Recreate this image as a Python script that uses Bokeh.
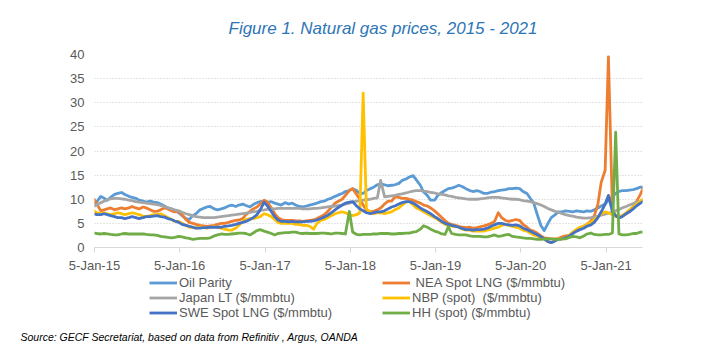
import pandas as pd
from bokeh.plotting import figure
from bokeh.layouts import column
from bokeh.models import Range1d, FixedTicker, Legend, LegendItem, Title, Label
from bokeh.embed import file_html
from bokeh.resources import INLINE

# semi-monthly observation dates (1st and 15th of each month)
dates = pd.date_range("2015-01-01", "2021-06-15", freq="SMS")

oil_parity = [
    8.8, 9.5, 10.6, 10.2, 9.8, 10.4, 11.0, 11.2, 11.4, 11.0, 10.6, 10.4, 10.2, 9.8, 9.6, 9.4, 9.6, 9.4, 9.3, 9.0, 8.6, 8.2, 8.0, 7.6,
    7.2, 6.6, 6.0, 5.8, 6.6, 7.0, 7.8, 8.1, 8.4, 8.5, 8.0, 7.8, 8.0, 8.2, 8.6, 8.8, 8.5, 8.8, 9.0, 8.7, 8.4, 8.9, 9.3, 9.5,
    9.6, 9.4, 9.5, 9.2, 9.0, 8.8, 9.3, 9.0, 9.2, 8.8, 8.5, 8.4, 8.6, 8.8, 9.0, 9.2, 9.5, 9.6, 10.0, 10.2, 10.6, 10.9, 11.2, 11.6,
    11.8, 12.2, 11.8, 11.2, 11.2, 11.8, 12.2, 12.5, 13.0, 13.2, 13.0, 12.8, 12.9, 13.0, 13.3, 13.9, 14.2, 14.6, 14.9, 14.0, 12.9, 11.5, 10.8, 9.8,
    9.8, 10.8, 11.4, 11.8, 12.2, 12.3, 12.6, 12.9, 12.6, 12.2, 11.8, 11.6, 11.8, 11.6, 11.2, 11.2, 11.5, 11.6, 11.8, 11.9, 12.0, 12.2, 12.2, 12.3,
    12.2, 11.6, 11.2, 10.2, 9.2, 7.0, 4.5, 3.5, 5.0, 6.2, 6.8, 7.4, 7.4, 7.6, 7.5, 7.4, 7.6, 7.5, 7.4, 7.6, 7.5, 7.8, 8.2, 8.6,
    9.0, 9.8, 10.5, 11.2, 11.6, 11.8, 11.8, 11.9, 12.0, 12.2, 12.5, 12.5,
]

nea_spot_lng = [
    10.2, 9.0, 7.6, 7.8, 8.0, 8.2, 7.8, 8.0, 8.2, 8.0, 8.2, 8.5, 8.2, 8.0, 8.4, 8.2, 7.8, 7.5, 7.5, 7.8, 8.2, 8.0, 7.6, 7.4,
    7.5, 6.8, 5.8, 5.2, 5.0, 4.8, 4.6, 4.5, 4.4, 4.5, 4.6, 4.8, 5.0, 5.0, 5.2, 5.4, 5.6, 5.7, 6.0, 6.8, 7.5, 8.0, 8.4, 9.0,
    9.8, 9.4, 8.2, 7.0, 6.2, 5.8, 5.6, 5.6, 5.6, 5.5, 5.5, 5.4, 5.5, 5.6, 5.7, 6.0, 6.4, 6.8, 7.5, 8.3, 9.2, 9.6, 10.0, 10.8,
    11.8, 12.2, 11.0, 10.0, 8.8, 7.8, 7.4, 7.5, 7.8, 8.2, 9.0, 9.6, 9.6, 10.5, 10.4, 10.2, 10.2, 10.0, 9.8, 9.5, 9.2, 8.8, 8.6, 8.2,
    7.6, 7.0, 6.2, 5.6, 5.0, 4.8, 4.6, 4.4, 4.2, 4.1, 4.2, 4.0, 4.1, 4.3, 4.5, 4.7, 5.0, 5.4, 7.2, 6.2, 5.6, 5.4, 5.6, 5.8,
    5.6, 4.8, 4.2, 3.6, 3.4, 3.0, 2.4, 2.0, 1.9, 1.8, 1.8, 1.9, 2.2, 2.4, 2.5, 3.0, 3.5, 4.0, 4.4, 4.8, 5.5, 6.5, 9.0, 13.5,
    16.0, 39.5, 8.0, 6.5, 6.2, 6.5, 7.0, 7.5, 8.5, 9.5, 11.0, 12.5,
]

japan_lt = [
    8.5, 8.8, 9.3, 9.6, 9.9, 10.1, 10.2, 10.2, 10.1, 10.0, 9.8, 9.7, 9.5, 9.4, 9.3, 9.2, 9.1, 9.0, 8.9, 8.7, 8.5, 8.2, 8.0, 7.8,
    7.6, 7.3, 7.0, 6.8, 6.6, 6.4, 6.3, 6.2, 6.2, 6.2, 6.2, 6.3, 6.4, 6.5, 6.6, 6.7, 6.8, 6.9, 7.0, 7.1, 7.3, 7.4, 7.5, 7.7,
    7.8, 7.9, 8.0, 8.0, 8.1, 8.1, 8.1, 8.1, 8.1, 8.1, 8.1, 8.0, 8.0, 8.0, 8.1, 8.1, 8.2, 8.3, 8.4, 8.5, 8.6, 8.7, 8.8, 9.0,
    9.2, 9.4, 9.6, 9.7, 9.8, 9.9, 10.0, 10.2, 10.3, 13.9, 10.5, 10.6, 10.7, 10.8, 11.0, 11.1, 11.3, 11.5, 11.7, 11.8, 11.8, 11.7, 11.6, 11.4,
    11.3, 11.1, 11.0, 10.9, 10.7, 10.6, 10.4, 10.3, 10.2, 10.1, 10.0, 10.0, 10.0, 10.1, 10.2, 10.3, 10.4, 10.4, 10.4, 10.3, 10.2, 10.1, 10.0, 10.0,
    9.9, 9.7, 9.6, 9.5, 9.3, 9.1, 8.8, 8.5, 8.1, 7.8, 7.5, 7.3, 7.0, 6.8, 6.6, 6.5, 6.3, 6.2, 6.1, 6.1, 6.2, 6.3, 6.5, 6.7,
    6.9, 7.1, 7.3, 7.6, 7.9, 8.2, 8.5, 8.8, 9.1, 9.4, 9.6, 9.8,
]

nbp_spot = [
    7.6, 7.2, 7.0, 7.2, 7.0, 6.8, 7.0, 7.2, 7.0, 6.8, 7.0, 7.2, 7.0, 6.8, 6.5, 6.4, 6.6, 6.8, 6.8, 7.0, 6.6, 6.2, 5.8, 5.4,
    5.4, 5.0, 4.6, 4.2, 4.2, 4.0, 4.2, 4.2, 4.0, 4.2, 4.4, 4.2, 4.0, 3.8, 3.6, 3.6, 4.0, 4.6, 5.4, 5.8, 6.0, 6.0, 6.2, 6.4,
    7.0, 6.8, 6.4, 5.8, 5.2, 5.0, 5.0, 5.0, 5.0, 4.8, 4.8, 4.6, 4.6, 4.4, 3.8, 5.0, 5.6, 5.8, 6.2, 6.6, 7.0, 7.2, 7.4, 7.2,
    6.8, 6.6, 6.8, 7.2, 32.0, 8.0, 7.2, 7.0, 7.2, 7.2, 7.0, 7.2, 7.4, 7.8, 8.2, 8.8, 9.4, 9.6, 8.8, 8.2, 7.8, 7.4, 7.0, 6.6,
    6.2, 5.8, 5.2, 4.8, 4.6, 4.4, 4.4, 4.2, 3.8, 3.6, 3.6, 3.4, 3.4, 3.4, 3.4, 3.6, 3.8, 4.0, 4.2, 4.6, 4.8, 4.6, 4.4, 4.2,
    4.0, 3.6, 3.4, 3.0, 2.6, 2.4, 2.0, 1.7, 1.2, 1.0, 1.4, 1.8, 1.8, 2.0, 2.6, 3.2, 3.8, 4.2, 4.4, 4.8, 5.2, 5.8, 6.4, 7.0,
    7.4, 7.2, 6.8, 6.5, 6.4, 6.6, 7.2, 7.8, 8.4, 9.0, 9.6, 10.2,
]

swe_spot_lng = [
    7.0, 6.8, 6.8, 7.0, 6.8, 6.6, 6.4, 6.2, 6.2, 6.0, 6.2, 6.4, 6.2, 6.0, 6.2, 6.4, 6.4, 6.5, 6.6, 6.4, 6.3, 6.0, 5.8, 5.5,
    5.2, 4.8, 4.6, 4.4, 4.2, 4.0, 4.0, 4.1, 4.1, 4.2, 4.2, 4.2, 4.2, 4.4, 4.5, 4.6, 4.8, 5.0, 5.2, 5.4, 5.8, 6.2, 6.8, 7.8,
    9.4, 8.6, 7.4, 6.4, 5.7, 5.4, 5.4, 5.3, 5.4, 5.3, 5.3, 5.3, 5.4, 5.4, 5.5, 5.7, 6.0, 6.3, 6.7, 7.2, 7.8, 8.3, 8.8, 9.2,
    9.4, 9.5, 8.6, 8.0, 7.6, 7.2, 7.0, 7.2, 7.4, 7.4, 7.6, 8.0, 8.4, 8.6, 9.0, 9.3, 9.5, 9.5, 9.2, 8.8, 8.2, 7.8, 7.4, 7.0,
    6.4, 6.0, 5.4, 5.0, 4.8, 4.6, 4.4, 4.2, 3.9, 3.7, 3.7, 3.6, 3.7, 3.7, 3.8, 4.0, 4.4, 4.7, 5.0, 5.0, 4.8, 4.7, 4.6, 4.7,
    4.5, 4.0, 3.7, 3.4, 3.0, 2.7, 2.2, 1.8, 1.2, 1.0, 1.4, 1.7, 1.8, 2.0, 2.4, 2.9, 3.4, 3.7, 4.0, 4.4, 4.7, 5.2, 6.2, 7.4,
    9.0, 10.8, 7.4, 6.6, 6.1, 6.4, 7.0, 7.4, 8.0, 8.6, 9.2, 9.6,
]

hh_spot = [
    3.0, 2.9, 2.8, 2.9, 2.8, 2.7, 2.6, 2.6, 2.8, 2.9, 2.8, 2.8, 2.8, 2.8, 2.8, 2.7, 2.6, 2.6, 2.5, 2.3, 2.2, 2.1, 2.0, 2.1,
    2.3, 2.2, 2.0, 1.9, 1.7, 1.8, 1.9, 1.9, 1.9, 2.0, 2.4, 2.6, 2.8, 2.7, 2.7, 2.8, 2.9, 3.0, 3.0, 2.9, 2.6, 3.0, 3.5, 3.7,
    3.4, 3.2, 2.9, 2.6, 2.9, 3.0, 3.1, 3.1, 3.2, 3.2, 3.0, 2.9, 3.0, 2.9, 2.9, 2.9, 3.0, 3.0, 2.9, 2.8, 3.0, 3.0, 2.9, 2.8,
    7.5, 3.2, 2.7, 2.6, 2.7, 2.7, 2.7, 2.8, 2.8, 2.9, 2.9, 2.9, 2.8, 2.8, 2.9, 2.9, 3.0, 3.0, 3.2, 3.3, 3.8, 4.5, 4.2, 3.8,
    3.4, 3.2, 2.8, 2.7, 4.3, 2.9, 2.7, 2.6, 2.6, 2.6, 2.4, 2.3, 2.3, 2.3, 2.2, 2.2, 2.4, 2.6, 2.3, 2.4, 2.6, 2.7, 2.3, 2.2,
    2.1, 2.0, 1.9, 1.9, 1.8, 1.7, 1.7, 1.8, 1.8, 1.8, 1.7, 1.7, 1.8, 1.8, 2.1, 2.3, 2.2, 2.0, 2.4, 2.8, 3.0, 2.7, 2.6, 2.6,
    2.7, 2.7, 3.0, 23.9, 2.8, 2.6, 2.6, 2.7, 2.9, 2.9, 3.2, 3.2,
]

series_names = ["Oil Parity", "\u00a0NEA Spot LNG ($/mmbtu)", "Japan LT ($/mmbtu)",
                "NBP (spot)\u00a0 ($/mmbtu)", "SWE Spot LNG ($/mmbtu)", "HH (spot) ($/mmbtu)"]
series_values = [oil_parity, nea_spot_lng, japan_lt, nbp_spot, swe_spot_lng, hh_spot]
series_colors = ["#5B9BD5", "#ED7D31", "#A5A5A5", "#FFC000", "#4472C4", "#70AD47"]

tick_dates = ["2015-01-05", "2016-01-05", "2017-01-05", "2018-01-05", "2019-01-05", "2020-01-05", "2021-01-05"]
tick_labels = ["5-Jan-15", "5-Jan-16", "5-Jan-17", "5-Jan-18", "5-Jan-19", "5-Jan-20", "5-Jan-21"]
y_ticks = [0, 5, 10, 15, 20, 25, 30, 35, 40]

for s in series_values:
    assert len(s) == len(dates), (len(s), len(dates))

FONT = "Liberation Sans"
TXT = "#595959"
LW = 2.8

# ---------------- main chart ----------------
p = figure(width=707, height=275, x_axis_type="datetime", output_backend="svg",
           toolbar_location=None,
           x_range=Range1d(pd.Timestamp("2015-01-05"), pd.Timestamp("2021-06-10")),
           y_range=Range1d(0, 40),
           min_border_left=94, min_border_right=65, min_border_top=54, min_border_bottom=26)
p.frame_align = False
p.outline_line_color = None
p.background_fill_color = "white"
p.border_fill_color = "white"

for vals, col in zip(series_values, series_colors):
    p.line(dates, vals, line_color=col, line_width=LW, line_join="round")

tick_ms = [int(pd.Timestamp(d).value // 10**6) for d in tick_dates]
p.xaxis.ticker = FixedTicker(ticks=tick_ms)
p.xaxis.major_label_overrides = {ms: lab for ms, lab in zip(tick_ms, tick_labels)}
p.xaxis.axis_line_color = "#D9D9D9"
p.xaxis.major_tick_line_color = "#D9D9D9"
p.xaxis.major_tick_in = 0
p.xaxis.major_tick_out = 5
p.xaxis.minor_tick_line_color = None
p.xaxis.major_label_standoff = 5
p.xaxis.major_label_text_font = FONT
p.xaxis.major_label_text_font_size = "13px"
p.xaxis.major_label_text_color = TXT

p.yaxis.ticker = FixedTicker(ticks=y_ticks)
p.yaxis.axis_line_color = None
p.yaxis.major_tick_line_color = None
p.yaxis.minor_tick_line_color = None
p.yaxis.major_tick_in = 0
p.yaxis.major_tick_out = 0
p.yaxis.major_label_standoff = 10
p.yaxis.major_label_text_font = FONT
p.yaxis.major_label_text_font_size = "13px"
p.yaxis.major_label_text_color = TXT

p.xgrid.visible = False
p.ygrid.grid_line_color = "#C8C8C8"
p.ygrid.grid_line_dash = "1 2"
p.ygrid.grid_line_width = 1

title = Title(text="Figure 1. Natural gas prices, 2015 - 2021",
              align="left", offset=134, standoff=33,
              text_font=FONT, text_font_style="italic", text_font_size="17px",
              text_color="#2E75B6")
p.add_layout(title, "above")

# ---------------- legend + source strip ----------------
q = figure(width=707, height=80, output_backend="svg", toolbar_location=None,
           x_range=Range1d(0, 1), y_range=Range1d(0, 1),
           x_axis_location=None, y_axis_location=None,
           min_border_left=0, min_border_right=0, min_border_top=0, min_border_bottom=0)
q.frame_align = False
q.outline_line_color = None
q.grid.visible = False
q.background_fill_color = "white"
q.border_fill_color = "white"

# legend key renderers (no visible marks: a single NaN vertex)
nan = float("nan")
keys = [q.line(x=[nan], y=[nan], line_color=col, line_width=LW) for col in series_colors]

def make_legend(idx, loc):
    leg = Legend(items=[LegendItem(label=series_names[i], renderers=[keys[i]]) for i in idx],
                 location=loc, orientation="vertical", padding=0, margin=0, spacing=0,
                 glyph_width=28, glyph_height=15, label_height=15, label_standoff=2,
                 label_text_font=FONT, label_text_font_size="13px", label_text_color=TXT,
                 border_line_color=None, background_fill_alpha=0)
    q.add_layout(leg)

make_legend([0, 2, 4], (149, 35))
make_legend([1, 3, 5], (382, 35))

source = Label(x=20, y=19, x_units="screen", y_units="screen",
               text="Source: GECF Secretariat, based on data from Refinitiv , Argus, OANDA",
               text_align="left", text_baseline="middle",
               text_font=FONT, text_font_style="italic", text_font_size="10.5px",
               text_color="#000000")
q.add_layout(source)

open("out.html", "w").write(file_html(column(p, q, spacing=0), INLINE))
